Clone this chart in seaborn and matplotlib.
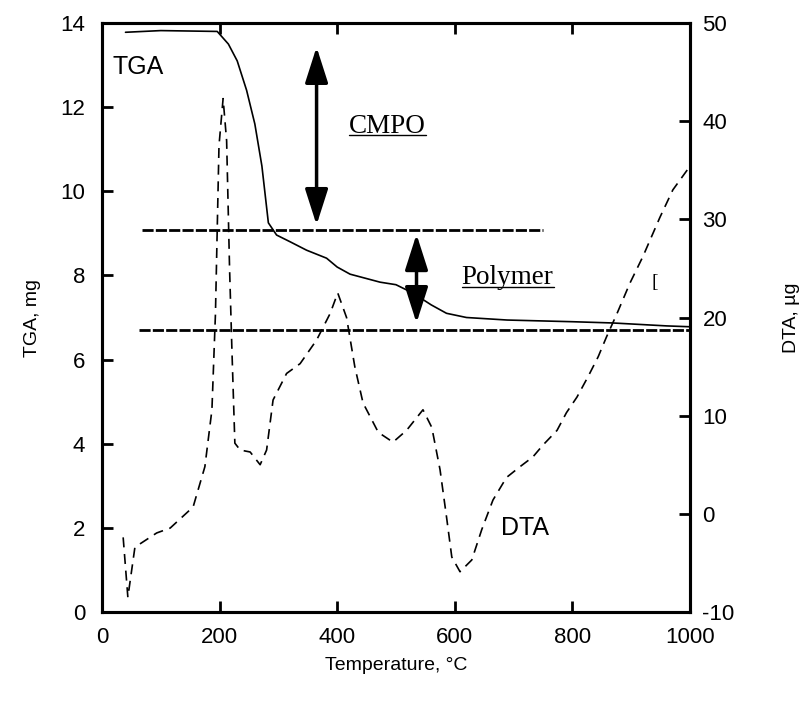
import numpy as np
import pandas as pd
import matplotlib
matplotlib.use('Agg')
import matplotlib.pyplot as plt
import seaborn as sns

# curva TGA (mg)
tga_temp = [40, 100, 196, 215, 230, 246, 260, 272, 283, 297, 320, 348, 382, 400, 422,
            473, 500, 529, 560, 586, 620, 689, 800, 869, 961, 1000]
tga_mg = [13.78, 13.82, 13.8, 13.5, 13.1, 12.4, 11.6, 10.6, 9.25, 8.96, 8.8, 8.6, 8.41, 8.2, 8.03,
          7.84, 7.78, 7.58, 7.3, 7.1, 7.0, 6.94, 6.9, 6.87, 6.8, 6.78]

# curva DTA (ug)
dta_temp = [36, 44, 56, 93, 116, 155, 175, 187, 193, 199, 206, 212, 217, 221, 226, 235, 252,
            269, 280, 291, 314, 337, 365, 388, 401, 416, 430, 444, 470, 495, 518, 546, 561,
            575, 586, 595, 609, 629, 646, 665, 688, 711, 733, 750, 774, 790, 808, 827, 844,
            858, 876, 898, 920, 949, 971, 1000]
dta_ug = [-2.4, -8.5, -3.4, -1.95, -1.45, 0.7, 4.8, 10.6, 20.4, 37.5, 42.3, 38.0, 25.0, 16.7, 7.2, 6.5, 6.3,
          5.0, 6.5, 11.6, 14.3, 15.3, 17.7, 20.4, 22.5, 20.0, 15.0, 11.3, 8.3, 7.3, 8.5, 10.6, 8.8,
          4.5, -0.3, -4.4, -5.9, -4.7, -1.6, 1.4, 3.7, 4.8, 5.8, 7.0, 8.5, 10.3, 11.9, 14.0, 16.0,
          18.0, 20.4, 23.5, 26.2, 30.2, 33.0, 35.4]

# niveis de perda de massa
nivel_cmpo = 9.08
nivel_polimero = 6.70

df_tga = pd.DataFrame({'T': tga_temp, 'm': tga_mg})
df_dta = pd.DataFrame({'T': dta_temp, 'd': dta_ug})

sns.set_style('ticks')
plt.rcParams['font.family'] = ['Liberation Sans', 'DejaVu Sans']
plt.rcParams['axes.unicode_minus'] = False
for k in ('text.color', 'axes.labelcolor', 'xtick.color', 'ytick.color', 'axes.edgecolor'):
    plt.rcParams[k] = 'black'

fig = plt.figure(figsize=(8.05, 7.04), dpi=100)
ax = fig.add_axes([0.1267, 0.1307, 0.7303, 0.8366])
ax2 = ax.twinx()

sns.lineplot(data=df_tga, x='T', y='m', ax=ax, color='black', lw=1.2, sort=False)
sns.lineplot(data=df_dta, x='T', y='d', ax=ax2, color='black', lw=1.2, sort=False,
             linestyle=(0, (6, 4)))

# linhas horizontais
ax.plot([68, 750], [nivel_cmpo, nivel_cmpo], color='black', lw=2, linestyle=(0, (4, 0.8)))
ax.plot([63, 1000], [nivel_polimero, nivel_polimero], color='black', lw=2, linestyle=(0, (4, 0.8)))

# setas
seta = dict(arrowstyle='<|-|>,head_length=1.0,head_width=0.32', lw=2.5, color='black',
            mutation_scale=22, shrinkA=0, shrinkB=0)
ax.annotate('', xy=(365, 13.43), xytext=(365, 9.2), arrowprops=seta)
ax.annotate('', xy=(535, 8.98), xytext=(535, 6.87), arrowprops=seta)

ax.text(18, 12.95, 'TGA', fontsize=18, ha='left', va='center')
ax.text(719, 2.0, 'DTA', fontsize=18, ha='center', va='center')
t1 = ax.text(485, 11.55, 'CMPO', fontsize=19.5, ha='center', va='center', family='Liberation Serif')
t2 = ax.text(690, 7.95, 'Polymer', fontsize=19.5, ha='center', va='center', family='Liberation Serif')
ax.text(940, 7.84, '[', fontsize=14, ha='center', va='center', family='Liberation Serif')

ax.set_xlim(0, 1000)
ax.set_ylim(0, 14)
ax2.set_ylim(-10, 50)
ax.set_xticks(range(0, 1001, 200))
ax.set_yticks(range(0, 15, 2))
ax2.set_yticks(range(-10, 51, 10))

ax.set_xlabel('Temperature, °C', fontsize=14, labelpad=6)
ax.set_ylabel('TGA, mg', fontsize=14, labelpad=14)
ax2.set_ylabel('DTA, µg', fontsize=14, labelpad=35)

ax.tick_params(axis='both', direction='in', length=8, width=2, labelsize=16, pad=12,
               top=True, right=False)
ax.tick_params(axis='x', pad=11)
ax2.tick_params(axis='y', direction='in', length=8, width=2, labelsize=16, pad=9)
for a in (ax, ax2):
    for s in a.spines.values():
        s.set_linewidth(2.2)

# sublinhado
fig.canvas.draw()
inv = ax.transData.inverted()
for t in (t1, t2):
    bb = t.get_window_extent()
    (x0, y0), (x1, y1) = inv.transform([(bb.x0, bb.y0), (bb.x1, bb.y0)])
    ax.plot([x0, x1], [y0 + 0.08, y0 + 0.08], color='black', lw=1)

fig.savefig('out.png', dpi=100)
